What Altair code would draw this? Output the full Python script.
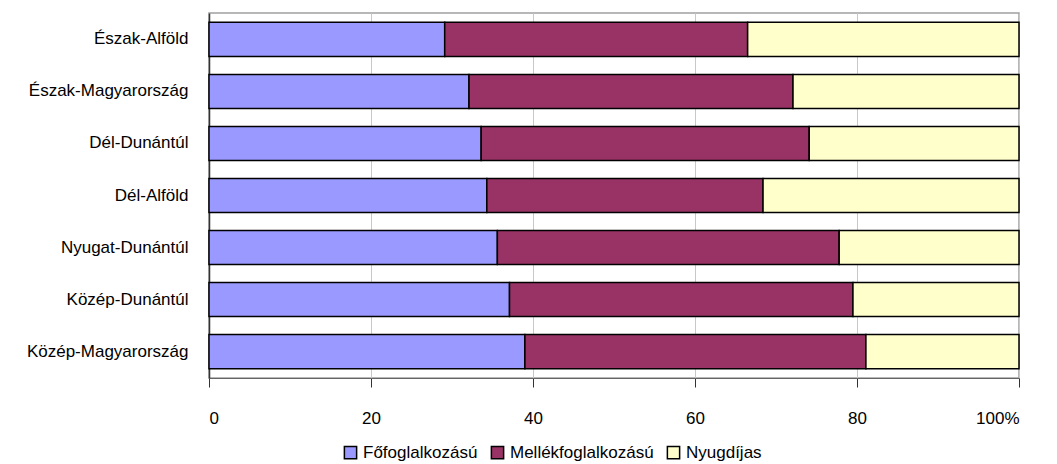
import altair as alt
import pandas as pd

regions = ["Észak-Alföld", "Észak-Magyarország", "Dél-Dunántúl", "Dél-Alföld",
           "Nyugat-Dunántúl", "Közép-Dunántúl", "Közép-Magyarország"]
series = ["Főfoglalkozású", "Mellékfoglalkozású", "Nyugdíjas"]
fo = [29.1, 32.1, 33.6, 34.3, 35.6, 37.1, 39.0]
mellek = [37.4, 40.0, 40.5, 34.1, 42.2, 42.4, 42.1]
nyugdijas = [33.5, 27.9, 25.9, 31.6, 22.2, 20.5, 18.9]
colors = ["#9999FF", "#993366", "#FFFFCC"]
x_ticks = [0, 20, 40, 60, 80, 100]

rows = []
for i, r in enumerate(regions):
    for j, (s, vals) in enumerate(zip(series, [fo, mellek, nyugdijas])):
        rows.append({"region": r, "series": s, "value": vals[i], "ord": j})
df = pd.DataFrame(rows)

FONT = "Liberation Sans"
FS = 17

chart = alt.Chart(df).mark_bar(stroke="black", strokeWidth=1.5).encode(
    y=alt.Y("region:N", sort=regions, title=None,
            scale=alt.Scale(paddingInner=0.346, paddingOuter=0.18),
            axis=alt.Axis(ticks=False, labelPadding=21, labelFontSize=FS, labelFont=FONT,
                          labelColor="black", domainColor="#333333", domainWidth=1.5)),
    x=alt.X("value:Q", stack="normalize", title=None,
            scale=alt.Scale(domain=[0, 1], nice=False),
            axis=alt.Axis(values=[v / 100 for v in x_ticks],
                          labelExpr="datum.value >= 0.999 ? '100%' : format(datum.value*100, 'd')",
                          tickSize=9, tickColor="#333333", domainColor="#666666",
                          gridColor="#c8c8c8", grid=True, labelPadding=23,
                          labelFontSize=FS, labelFont=FONT, labelColor="black")),
    color=alt.Color("series:N", sort=series,
                    scale=alt.Scale(domain=series, range=colors),
                    legend=alt.Legend(title=None, orient="none", direction="horizontal",
                                      legendX=133, legendY=431, symbolType="square",
                                      symbolSize=150, symbolStrokeColor="black",
                                      symbolStrokeWidth=1.5, labelFontSize=FS, labelFont=FONT,
                                      labelColor="black", columnPadding=10)),
    order=alt.Order("ord:Q"),
).properties(
    width=810, height=365,
    autosize=alt.AutoSizeParams(type="none"),
    padding={"left": 201, "top": 5, "right": 30, "bottom": 86},
).configure_view(stroke="#a0a0a0", strokeWidth=1.5)

chart.save("out.html", embed_options={"renderer": "svg", "actions": False})
